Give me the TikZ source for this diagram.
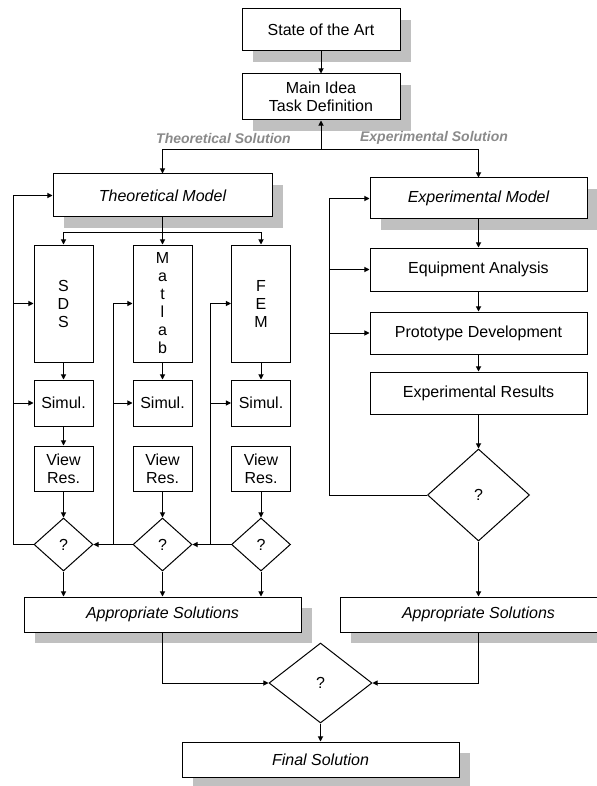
\documentclass[tikz,border=0pt]{standalone}
\usepackage{fontspec}
\setmainfont{Liberation Sans}
\usepackage{tikz}
\usetikzlibrary{arrows.meta, shapes.geometric, shadows}
\definecolor{flowShadow}{HTML}{C0C0C0}
\definecolor{flowLabel}{HTML}{8A8A8A}
\definecolor{flowInk}{HTML}{000000}

\begin{document}
\begin{tikzpicture}[
  x=0.5pt, y=-0.5pt,
  font=\fontsize{8}{9}\selectfont,
  line width=0.5pt,
  box/.style={draw=flowInk, fill=white, inner sep=0pt, align=center},
  sbox/.style={box, general shadow={fill=flowShadow, shadow xshift=5.5pt, shadow yshift=-5.5pt}},
  ask/.style={diamond, draw=flowInk, fill=white, inner sep=0pt},
  arr/.style={-{Triangle[length=2.6pt, width=2.6pt]}},
  way/.style={font=\fontsize{7}{8}\selectfont\bfseries\itshape, text=flowLabel, inner sep=0pt},
]
\useasboundingbox (0,0) rectangle (597,786);
\clip (0,0) rectangle (597,786);

% ============================== top ==========================================
\node[sbox, minimum width=79pt, minimum height=21pt] (state) at (321,30) {State of the Art};
\node[sbox, minimum width=79pt, minimum height=23pt] (idea) at (321,97) {Main Idea\\Task Definition};
\coordinate (split) at (321,150);

\node[way] (tsol) at (223.5,138) {Theoretical Solution};
\node[way] (esol) at (434,138) {Experimental Solution};

% ========================== theoretical side =================================
\node[sbox, minimum width=109.5pt, minimum height=21.5pt] (theo) at (162.5,195.5) {\itshape Theoretical Model};
\coordinate (branch) at (162.5,232);

\node[box, minimum width=29.5pt, minimum height=58.5pt] (sds) at (63.5,303.5) {S\\D\\S};
\node[box, minimum width=29.5pt, minimum height=58.5pt] (mat) at (162.5,303.5) {M\\a\\t\\l\\a\\b};
\node[box, minimum width=29.5pt, minimum height=58.5pt] (fem) at (261,303.5) {F\\E\\M};

\node[box, minimum width=29.5pt, minimum height=23pt] (sim1) at (63.5,403) {Simul.};
\node[box, minimum width=29.5pt, minimum height=23pt] (sim2) at (162.5,403) {Simul.};
\node[box, minimum width=29.5pt, minimum height=23pt] (sim3) at (261,403) {Simul.};

\node[box, minimum width=29.5pt, minimum height=22.5pt] (view1) at (63.5,468.5) {View\\Res.};
\node[box, minimum width=29.5pt, minimum height=22.5pt] (view2) at (162.5,468.5) {View\\Res.};
\node[box, minimum width=29.5pt, minimum height=22.5pt] (view3) at (261,468.5) {View\\Res.};

\node[ask, minimum width=29.5pt, minimum height=26.5pt] (q1) at (63.5,544.5) {?};
\node[ask, minimum width=29.5pt, minimum height=26.5pt] (q2) at (162.5,544.5) {?};
\node[ask, minimum width=29.5pt, minimum height=26.5pt] (q3) at (261,544.5) {?};

\coordinate (fb1) at (13,544.5);
\coordinate (fb2) at (113,544.5);
\coordinate (fb3) at (210,544.5);

\node[sbox, minimum width=138.5pt, minimum height=17.5pt] (tapp) at (162.5,614.5) {\itshape Appropriate Solutions};

% ========================== experimental side ================================
\node[sbox, minimum width=108.5pt, minimum height=20.5pt] (expm) at (478.5,198.5) {\itshape Experimental Model};
\node[box, minimum width=108.5pt, minimum height=21.5pt] (equip) at (478.5,269.5) {Equipment Analysis};
\node[box, minimum width=108.5pt, minimum height=21pt] (proto) at (478.5,333) {Prototype Development};
\node[box, minimum width=108.5pt, minimum height=21pt] (res) at (478.5,393) {Experimental Results};
\node[ask, minimum width=51pt, minimum height=46pt] (qe) at (478.5,495) {?};
\coordinate (fbe) at (329,495);

\node[sbox, minimum width=138.5pt, minimum height=17.5pt] (eapp) at (478.5,614.5) {\itshape Appropriate Solutions};

% ================================ bottom =====================================
\node[ask, minimum width=51.5pt, minimum height=40pt] (qf) at (320.5,683) {?};
\node[sbox, minimum width=138.5pt, minimum height=17.5pt] (final) at (320.5,759.5) {\itshape Final Solution};

% ============================== connectors ===================================
\draw[arr] (state) -- (idea);
\draw[arr] (split) -- (idea);
\draw[arr] (split) -| (theo.north);
\draw[arr] (split) -| (expm.north);

% theoretical branch and the three tools
\draw (theo) -- (branch);
\draw[arr] (branch) -| (sds.north);
\draw[arr] (branch) -- (mat);
\draw[arr] (branch) -| (fem.north);
\draw[arr] (sds) -- (sim1);
\draw[arr] (mat) -- (sim2);
\draw[arr] (fem) -- (sim3);
\draw[arr] (sim1) -- (view1);
\foreach \i in {1,2,3} {
  \draw[arr] (view\i) -- (q\i);
  \draw[arr] (q\i.south) -- (q\i.south |- tapp.north);
}

% loops back from the checks
\draw[arr] (q1.west) -- (fb1) |- (theo.west);
\draw[arr] (fb1 |- sds) -- (sds.west);
\draw[arr] (fb1 |- sim1) -- (sim1.west);
\draw[arr] (q2.west) -- (q1.east);
\draw (fb2) -- (fb2 |- mat);
\draw[arr] (fb2 |- mat) -- (mat.west);
\draw[arr] (fb2 |- sim2) -- (sim2.west);
\draw[arr] (q3.west) -- (q2.east);
\draw (fb3) -- (fb3 |- fem);
\draw[arr] (fb3 |- fem) -- (fem.west);
\draw[arr] (fb3 |- sim3) -- (sim3.west);

% experimental chain
\draw[arr] (expm) -- (equip);
\draw[arr] (equip) -- (proto);
\draw[arr] (proto) -- (res);
\draw[arr] (res) -- (qe);
\draw[arr] (qe) -- (eapp);
\draw[arr] (qe.west) -- (fbe) |- (expm.west);
\draw[arr] (fbe |- equip) -- (equip.west);
\draw[arr] (fbe |- proto) -- (proto.west);

% the two answers meet
\draw[arr] (tapp.south) |- (qf.west);
\draw[arr] (eapp.south) |- (qf.east);
\draw[arr] (qf) -- (final);
\end{tikzpicture}
\end{document}
